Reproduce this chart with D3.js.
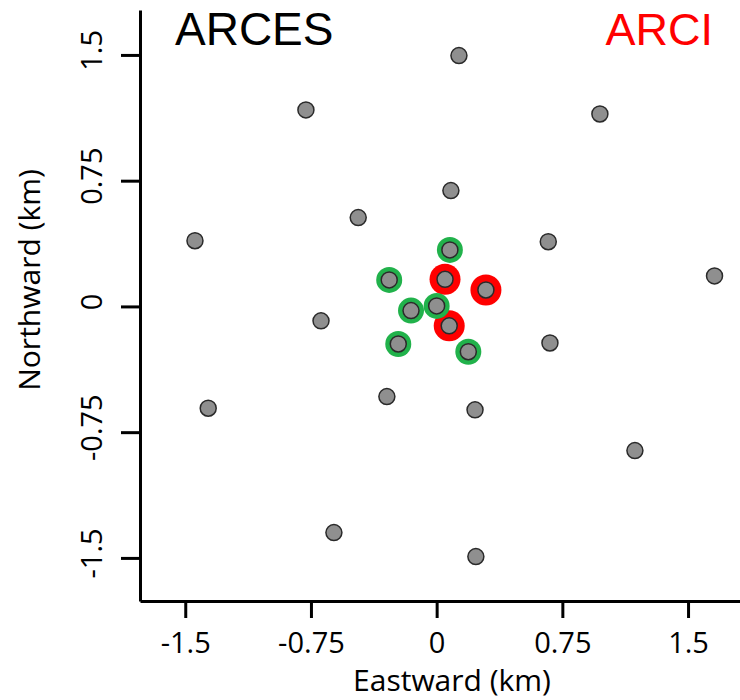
<!DOCTYPE html>
<html>
<head>
<meta charset="utf-8">
<script src="https://cdn.jsdelivr.net/npm/d3@7"></script>
<style>
    body {margin: 0; background: #fff;}
    svg {display: block;}
</style>
</head>
<body>
<svg id="svg0"></svg>
<script>
// station positions (km)
let eastward = [0.133, -0.780, 0.974, 0.085, -0.468, -1.442, 0.666, 1.658, -0.690, 0.676,
                -1.363, -0.297, 0.229, 1.183, -0.613, 0.234,
                0.079, -0.283, 0.050, 0.294, 0.000, -0.153, 0.075, -0.229, 0.189];
let northward = [1.496, 1.172, 1.148, 0.691, 0.530, 0.392, 0.386, 0.182, -0.086, -0.218,
                 -0.607, -0.538, -0.617, -0.860, -1.349, -1.492,
                 0.337, 0.158, 0.162, 0.098, 0.003, -0.025, -0.116, -0.224, -0.270];
// index of stations that belong to ARCI (red) and the inner ARCES ring (green)
let arciIdx = [18, 19, 22];
let innerIdx = [16, 17, 20, 21, 23, 24];
let tickValues = [-1.5, -0.75, 0, 0.75, 1.5];
let tickLabels = ['-1.5', '-0.75', '0', '0.75', '1.5'];

let width = 740;
let height = 700;
let margin = {top: 10, right: 0, bottom: 99, left: 140};

let svg = d3.select('#svg0').attr('width', width).attr('height', height);

let stations = eastward.map((e, i)=>{return {x: e, y: northward[i]};});

// scales
let xScale = d3.scaleLinear().domain([-1.77, 1.81]).range([margin.left, width - margin.right]);
let yScale = d3.scaleLinear().domain([-1.757, 1.768]).range([height - margin.bottom, margin.top]);

let font = '"Open Sans", sans-serif';

// axes
let xAxis = svg.append('g').attr('transform', 'translate(0, ' + (height - margin.bottom) + ')')
    .call(d3.axisBottom(xScale).tickValues(tickValues).tickSize(17).tickSizeOuter(0)
        .tickFormat((d, i)=>{return tickLabels[i];}));
xAxis.selectAll('text').attr('y', 52).attr('dy', 0)
    .style('font-family', font).style('font-size', '29px').style('fill', '#000');

let yAxis = svg.append('g').attr('transform', 'translate(' + margin.left + ', 0)')
    .call(d3.axisLeft(yScale).tickValues(tickValues).tickSize(19).tickSizeOuter(0)
        .tickFormat((d, i)=>{return tickLabels[i];}));
yAxis.selectAll('text').attr('x', 0).attr('dy', 0)
    .attr('transform', 'translate(-38, -5) rotate(-90)')
    .style('text-anchor', 'middle')
    .style('font-family', font).style('font-size', '29px').style('fill', '#000');

svg.selectAll('.domain, .tick line').style('stroke', '#000').style('stroke-width', '3px');

// rings for the two arrays, then the stations on top
svg.selectAll('.arci').data(arciIdx).enter().append('circle')
    .attr('class', 'arci')
    .attr('cx', d=>{return xScale(stations[d].x);})
    .attr('cy', d=>{return yScale(stations[d].y);})
    .attr('r', 15.5)
    .style('fill', '#ff0000');

svg.selectAll('.inner').data(innerIdx).enter().append('circle')
    .attr('class', 'inner')
    .attr('cx', d=>{return xScale(stations[d].x);})
    .attr('cy', d=>{return yScale(stations[d].y);})
    .attr('r', 13)
    .style('fill', '#21b24b');

svg.selectAll('.station').data(stations).enter().append('circle')
    .attr('class', 'station')
    .attr('cx', d=>{return xScale(d.x);})
    .attr('cy', d=>{return yScale(d.y);})
    .attr('r', 8)
    .style('fill', '#8f8f8f')
    .style('stroke', '#2a2a2a')
    .style('stroke-width', 1.5);

// axis titles
svg.append('text')
    .attr('x', 452).attr('y', 691)
    .text('Eastward (km)')
    .style('font-family', font).style('font-size', '30px').style('text-anchor', 'middle');

svg.append('text')
    .attr('transform', 'translate(40, 280) rotate(-90)')
    .text('Northward (km)')
    .style('font-family', font).style('font-size', '30px').style('text-anchor', 'middle');

// array names
svg.append('text')
    .attr('x', 175).attr('y', 45)
    .text('ARCES')
    .style('font-family', '"Liberation Sans", Arial, sans-serif').style('font-size', '46px');

svg.append('text')
    .attr('x', 713).attr('y', 45)
    .text('ARCI')
    .style('font-family', '"Liberation Sans", Arial, sans-serif').style('font-size', '45px')
    .style('text-anchor', 'end').style('fill', '#ff0000');
</script>
</body>
</html>
